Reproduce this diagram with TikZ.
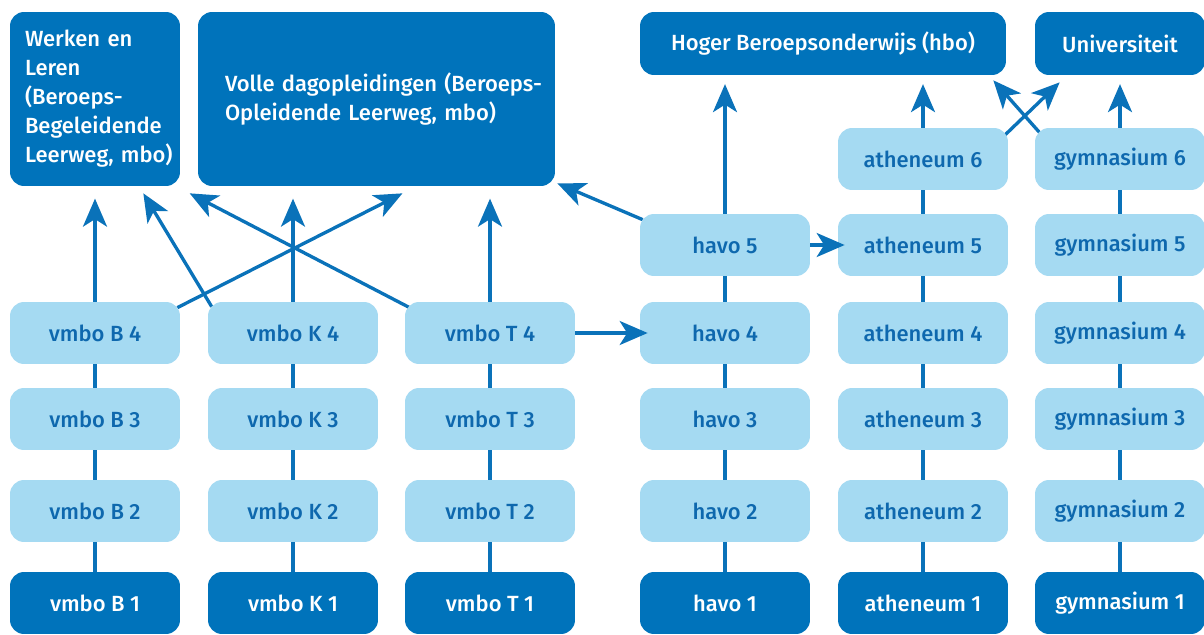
\documentclass[tikz,border=0pt]{standalone}
\usepackage{fontspec}
\setmainfont{Fira Sans}[UprightFont=* Medium, BoldFont=* SemiBold]
\usetikzlibrary{arrows.meta,calc,backgrounds}
\definecolor{darkblue}{HTML}{0073BB}
\definecolor{lightblue}{HTML}{A5DAF2}
\definecolor{textblue}{HTML}{0E68AE}
\definecolor{lineblue}{HTML}{0A72B9}

\begin{document}
\begin{tikzpicture}[x=0.02cm, y=-0.02cm,
	font=\fontsize{12.5}{16.5}\selectfont,
	lightbox/.style={fill=lightblue, text=textblue, rounded corners=0.28cm, inner sep=0pt, minimum width=3.4cm, minimum height=1.24cm},
	darkbox/.style={lightbox, fill=darkblue, text=white},
	goalbox/.style={fill=darkblue, text=white, rounded corners=0.28cm, inner sep=0pt, align=left},
	link/.style={draw=lineblue, line width=1.9pt},
	pijl/.style={link, -{Stealth[length=0.56cm, width=0.48cm, inset=0.15cm]}}]
			%%%%% START %%%%%
			\useasboundingbox (0,0) rectangle (1204,635);
			
			% vervolgopleidingen
			\node[goalbox, minimum width=3.4cm, minimum height=3.48cm, text width=2.8cm] (wl) at (95,99) {Werken en\\Leren\\(Beroeps-\\Begeleidende\\\mbox{Leerweg, mbo)}};
			\node[goalbox, minimum width=7.14cm, minimum height=3.48cm, text width=6.06cm] (vd) at (376.5,99) {\mbox{Volle dagopleidingen (Beroeps-}\\\mbox{Opleidende Leerweg, mbo)}};
			\node[goalbox, minimum width=7.32cm, minimum height=1.26cm] (hbo) at (823,43.5) {Hoger Beroepsonderwijs (hbo)};
			\node[goalbox, minimum width=3.4cm, minimum height=1.26cm] (uni) at (1120,43.5) {Universiteit};
			
			% vmbo
			\node[darkbox] (b1) at (95,603) {vmbo B 1};
			\node[lightbox] (b2) at (95,511) {vmbo B 2};
			\node[lightbox] (b3) at (95,419) {vmbo B 3};
			\node[lightbox] (b4) at (95,333) {vmbo B 4};
			
			\node[darkbox] (k1) at (293,603) {vmbo K 1};
			\node[lightbox] (k2) at (293,511) {vmbo K 2};
			\node[lightbox] (k3) at (293,419) {vmbo K 3};
			\node[lightbox] (k4) at (293,333) {vmbo K 4};
			
			\node[darkbox] (t1) at (490,603) {vmbo T 1};
			\node[lightbox] (t2) at (490,511) {vmbo T 2};
			\node[lightbox] (t3) at (490,419) {vmbo T 3};
			\node[lightbox] (t4) at (490,333) {vmbo T 4};
			
			% havo
			\node[darkbox] (h1) at (725,603) {havo 1};
			\node[lightbox] (h2) at (725,511) {havo 2};
			\node[lightbox] (h3) at (725,419) {havo 3};
			\node[lightbox] (h4) at (725,333) {havo 4};
			\node[lightbox] (h5) at (725,245) {havo 5};
			
			% atheneum
			\node[darkbox] (a1) at (923,603) {atheneum 1};
			\node[lightbox] (a2) at (923,511) {atheneum 2};
			\node[lightbox] (a3) at (923,419) {atheneum 3};
			\node[lightbox] (a4) at (923,333) {atheneum 4};
			\node[lightbox] (a5) at (923,245) {atheneum 5};
			\node[lightbox] (a6) at (923,159) {atheneum 6};
			
			% gymnasium
			\node[darkbox] (g1) at (1120,603) {gymnasium 1};
			\node[lightbox] (g2) at (1120,511) {gymnasium 2};
			\node[lightbox] (g3) at (1120,419) {gymnasium 3};
			\node[lightbox] (g4) at (1120,333) {gymnasium 4};
			\node[lightbox] (g5) at (1120,245) {gymnasium 5};
			\node[lightbox] (g6) at (1120,159) {gymnasium 6};
			
			\begin{scope}[on background layer]
			% leerjaren
			\draw[link] (b1.center) -- (b4.center);
			\draw[link] (k1.center) -- (k4.center);
			\draw[link] (t1.center) -- (t4.center);
			\draw[link] (h1.center) -- (h5.center);
			\draw[link] (a1.center) -- (a6.center);
			\draw[link] (g1.center) -- (g6.center);
			
			% doorstroom naar mbo
			\draw[pijl, shorten >=7pt] (b4.center) -- (b4.center |- wl.south);
			\draw[pijl] ($(k4.north west)+(4,5)$) -- ($(wl.south east)+(-37,7)$);
			\draw[pijl] ($(t4.north west)+(5,6)$) -- ($(vd.south west)+(-8,7)$);
			\draw[pijl] ($(b4.north east)+(-3,6)$) -- ($(vd.south)+(26,7)$);
			\draw[pijl, shorten >=7pt] (k4.center) -- (k4.center |- vd.south);
			\draw[pijl, shorten >=7pt] (t4.center) -- (t4.center |- vd.south);
			\draw[pijl] ($(h5.north west)+(3,6)$) -- ($(vd.south east)+(2,-3)$);
			
			% doorstroom naar hbo en universiteit
			\draw[pijl, shorten >=5pt] (h5.center) -- (h5.center |- hbo.south);
			\draw[pijl, shorten >=5pt] (a6.center) -- (a6.center |- hbo.south);
			\draw[pijl, shorten >=5pt] (g6.center) -- (g6.center |- uni.south);
			\draw[pijl] ($(a6.north east)+(-3,7)$) -- ($(uni.south west)+(25,7)$);
			\draw[pijl] ($(g6.north west)+(5,5)$) -- ($(hbo.south east)+(-13,5)$);
			\end{scope}
			
			% zijinstroom
			\draw[pijl] (t4.east) -- ($(h4.west)+(8,0)$);
			\draw[pijl] (h5.east) -- ($(a5.west)+(7,0)$);
			%%%%% END %%%%%
\end{tikzpicture}
\end{document}
